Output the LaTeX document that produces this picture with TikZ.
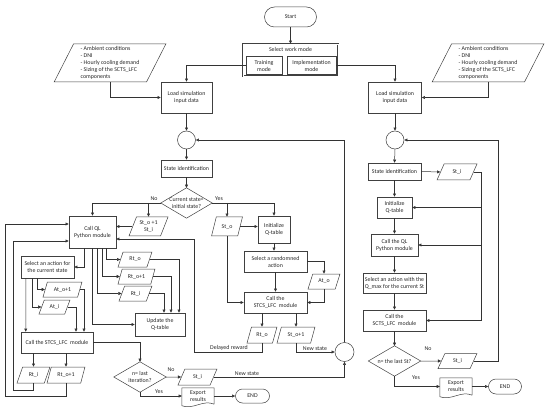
\documentclass[tikz,border=0pt]{standalone}
\usepackage{fontspec}
\setmainfont{Carlito}
\usetikzlibrary{shapes.geometric,shapes.misc,arrows.meta,calc}
\begin{document}
\begin{tikzpicture}[x=1pt,y=-1pt,
  every node/.style={font=\fontsize{5.9}{7}\selectfont, text=black!85},
  ln/.style={draw=black!80, line width=0.5pt},
  arr/.style={ln, -{Triangle[length=3.2pt,width=3pt]}},
  box/.style={rectangle, draw=black!75, line width=0.5pt, inner sep=0.5pt, align=center},
  io/.style={trapezium, trapezium left angle=65, trapezium right angle=115, trapezium stretches=true, draw=black!75, line width=0.5pt, inner sep=0.5pt, align=center},
  term/.style={rounded rectangle, draw=black!75, line width=0.5pt, inner sep=0.5pt},
  conn/.style={circle, draw=black!75, line width=0.5pt, minimum size=18pt, inner sep=0pt},
  decn/.style={rectangle, inner sep=0pt, align=center},
  docn/.style={rectangle, inner sep=0.5pt, align=center},
  lbl/.style={inner sep=0.5pt}
]
\useasboundingbox (0,0) rectangle (550,412);

% ---------- top ----------
\node[term, minimum width=53pt, minimum height=20pt] (Start) at (290.5,17) {Start};
\node[box, double, double distance=0.6pt, minimum width=95pt, minimum height=32pt] (SWM) at (290.5,60) {};
\node (SWMt) at (290.5,49.5) {Select work mode};
\node[box, minimum width=36pt, minimum height=18pt] (Trn) at (264,65.5) {Training\\mode};
\node[box, minimum width=49pt, minimum height=18pt] (Imp) at (311.5,65.5) {Implementation\\mode};

\node[io, minimum width=112pt, minimum height=38pt, align=left] (ParaL) at (110,63) {- Ambient conditions\\- DNI\\- Hourly cooling demand\\- Sizing of the SCTS\_LFC\\components};
\node[io, minimum width=112pt, minimum height=38pt, align=left] (ParaR) at (488,63) {- Ambient conditions\\- DNI\\- Hourly cooling demand\\- Sizing of the SCTS\_LFC\\components};

\node[box, minimum width=51pt, minimum height=31pt] (LoadL) at (186.5,97.5) {Load simulation\\input data};
\node[box, minimum width=53pt, minimum height=31pt] (LoadR) at (395,97.5) {Load simulation\\input data};

\node[conn] (CircL) at (186.5,140) {};
\node[conn] (CircR) at (395,140) {};
\node[conn, minimum size=19pt] (CircB) at (344.5,352) {};

% ---------- left main ----------
\node[box, minimum width=51pt, minimum height=17pt] (StateL) at (186.5,168.5) {State identification};
\node[decn, minimum width=51pt, minimum height=30pt] (D1) at (186.5,203) {Current state=\\initial state?};
\draw[ln, draw=black!75] (D1.north) -- (D1.east) -- (D1.south) -- (D1.west) -- cycle;

\node[box, minimum width=47pt, minimum height=32pt] (CallQL) at (92.5,232) {Call QL\\Python module};
\node[io, minimum width=39pt, minimum height=19pt] (StoSti) at (148.5,226.5) {St\_o +1\\St\_i};
\node[io, minimum width=31pt, minimum height=19pt] (Sto) at (227,226.5) {St\_o};
\node[box, minimum width=32pt, minimum height=27pt] (Init) at (274,229.5) {Initialize\\Q-table};
\node[box, minimum width=63pt, minimum height=21pt] (SelR) at (275.5,261.5) {Select a randomned\\action};
\node[io, minimum width=32pt, minimum height=15pt] (Ato) at (324,281.5) {At\_o};
\node[box, minimum width=63pt, minimum height=21pt] (CallM) at (275.5,302.5) {Call the\\STCS\_LFC\ \ module};
\node[io, minimum width=30pt, minimum height=16pt] (Rtom) at (262,335) {Rt\_o};
\node[io, minimum width=38pt, minimum height=16pt] (Sto1m) at (296,335) {St\_o+1};

\node[box, minimum width=53pt, minimum height=22pt] (SelA) at (47.5,267) {Select an action for\\the current state};
\node[io, minimum width=34pt, minimum height=15pt] (Rto) at (135,259.5) {Rt\_o};
\node[io, minimum width=37pt, minimum height=15pt] (Rto1) at (136.5,276.5) {Rt\_o+1};
\node[io, minimum width=33pt, minimum height=15pt] (Rti) at (135.5,293.5) {Rt\_i};
\node[box, minimum width=50pt, minimum height=23pt] (Upd) at (160,324.5) {Update the\\Q-table};
\node[io, minimum width=39pt, minimum height=15pt] (Ato1) at (62.5,289.5) {At\_o+1};
\node[io, minimum width=31pt, minimum height=14pt] (Ati) at (54.5,307) {At\_i};
\node[box, minimum width=72pt, minimum height=21pt] (CallL) at (57,342.5) {Call the STCS\_LFC\ \ module};
\node[io, minimum width=33pt, minimum height=16pt] (Rtib) at (33.5,375) {Rt\_i};
\node[io, minimum width=38pt, minimum height=16pt] (Rto1b) at (66,375) {Rt\_o+1};

\node[decn, minimum width=52pt, minimum height=30pt] (D2) at (140,377) {n= last\\iteration?};
\draw[ln, draw=black!75] (D2.north) -- (D2.east) -- (D2.south) -- (D2.west) -- cycle;
\node[io, minimum width=39pt, minimum height=16pt] (Stib) at (197.5,377) {St\_i};
\node[docn, minimum width=32pt, minimum height=16pt] (ExpL) at (198,396) {Export\\results};
\draw[ln, draw=black!75] (ExpL.south east) -- (ExpL.north east) -- (ExpL.north west) -- ($(ExpL.south west)+(0,1.5)$) .. controls ($(ExpL.south west)+(11,6)$) and ($(ExpL.south east)+(-11,-5)$) .. (ExpL.south east);
\node[term, minimum width=35pt, minimum height=14pt] (EndL) at (252.5,396) {END};

% ---------- right ----------
\node[box, minimum width=53pt, minimum height=17pt] (RState) at (394.5,171.5) {State identification};
\node[io, minimum width=40pt, minimum height=16pt] (RSti) at (457,172) {St\_i};
\node[box, minimum width=35pt, minimum height=21pt] (RInit) at (394.5,207.5) {Initialize\\Q-table};
\node[box, minimum width=47pt, minimum height=22pt] (RCallQ) at (394.5,245) {Call the QL\\Python module};
\node[box, minimum width=63pt, minimum height=20pt] (RSelQ) at (394.5,283) {Select an action with the\\Q\_max for the current St};
\node[box, minimum width=63pt, minimum height=21pt] (RCallS) at (394.5,320.5) {Call the\\SCTS\_LFC\ \ module};
\node[decn, minimum width=52pt, minimum height=30pt] (D3) at (394.5,361) {n= the last St?};
\draw[ln, draw=black!75] (D3.north) -- (D3.east) -- (D3.south) -- (D3.west) -- cycle;
\node[io, minimum width=39pt, minimum height=15pt] (RStib) at (457.5,361) {St\_i};
\node[docn, minimum width=32pt, minimum height=17pt] (RExp) at (456,386.5) {Export\\results};
\draw[ln, draw=black!75] (RExp.south east) -- (RExp.north east) -- (RExp.north west) -- ($(RExp.south west)+(0,1.5)$) .. controls ($(RExp.south west)+(11,6)$) and ($(RExp.south east)+(-11,-5)$) .. (RExp.south east);
\node[term, minimum width=34pt, minimum height=15pt] (REnd) at (505,386.5) {END};

\coordinate (rbx) at (481,0);
\coordinate (rrx) at (498,0);
\coordinate (dl) at (194,352);

% ---------- connectors: top ----------
\draw[arr] (Start.south) -- (SWM.north);
\draw[arr] (Trn.west) -| (LoadL.north);
\draw[arr] (Imp.east) -| (LoadR.north);
\draw[arr] (ParaL.center |- ParaL.south) |- (LoadL.west);
\draw[arr] (ParaR.center |- ParaR.south) |- (LoadR.east);
\draw[arr] (LoadL.south) -- (CircL.north);
\draw[arr] (LoadR.south) -- (CircR.north);

% ---------- connectors: left main ----------
\draw[arr] (CircL.south) -- (StateL.north);
\draw[arr] (StateL.south) -- (D1.north);
\draw[arr] (D1.west) -| (CallQL.north);
\node[lbl] at (154,199) {No};
\draw[arr] (D1.west -| StoSti.center) -- (StoSti.center |- StoSti.north);
\draw[arr] (D1.east) -| (Init.north);
\node[lbl] at (219,199) {Yes};
\draw[arr] (D1.east -| Sto.center) -- (Sto.center |- Sto.north);
\draw[arr] (StoSti.west) -- (StoSti.west -| CallQL.east);
\draw[arr] (Sto.east) -- (Sto.east -| Init.west);
\draw[arr] (Sto.center |- Sto.south) |- (CallM.west);
\draw[arr] (Init.south) -- (Init.south |- SelR.north);
\draw[arr] (SelR.east) -| (Ato.center |- Ato.north);
\draw[arr] (Ato.center |- Ato.south) |- (CallM.east);
\draw[arr] (SelR.south) -- (CallM.north);
\draw[arr] (Rtom.center |- CallM.south) -- (Rtom.center |- Rtom.north);
\draw[arr] (Sto1m.center |- CallM.south) -- (Sto1m.center |- Sto1m.north);
\draw[arr] (Rtom.center |- Rtom.south) |- (dl) |- ($(CallQL.east)+(0,7)$);
\node[lbl, anchor=south] at (229,351) {Delayed reward};
\draw[arr] (Sto1m.center |- Sto1m.south) |- (CircB.west);
\node[lbl, anchor=south] at (315,351) {New state};
\draw[arr] (CircB.north) |- (CircL.east);
\draw[arr] (Stib.east) -| (CircB.south);
\node[lbl, anchor=south] at (247,376) {New state};

% ---------- connectors: left group ----------
\draw[arr] ($(CallQL.south)+(-8.5,0)$) |- (SelA.east);
\draw[arr] (CallQL.south) |- (Upd.west);
\draw[arr] ($(CallQL.south)+(4.5,0)$) |- (Rti.west);
\draw[arr] ($(CallQL.south)+(9.5,0)$) |- (Rto1.west);
\draw[arr] ($(CallQL.south)+(13.5,0)$) |- (Rto.west);
\draw[arr] (Rto.east) -| ($(Upd.north)+(19,0)$);
\draw[arr] (Rto1.east) -| ($(Upd.north)+(11,0)$);
\draw[arr] (Rti.east) -| ($(Upd.north)+(4,0)$);
\draw[arr] ($(SelA.south)+(-10.5,0)$) |- (Ato1.west);
\draw[arr] ($(SelA.south)+(-15.5,0)$) |- (Ati.west);
\draw[arr] ($(SelA.south)+(-21.5,0)$) -- ($(CallL.north west)+(5,0)$);
\draw[arr] (Ato1.east) -| ($(CallL.north)+(27,0)$);
\draw[arr] (Ati.east) -| ($(CallL.north)+(19,0)$);
\draw[arr] (Rtib.center |- CallL.south) -- (Rtib.center |- Rtib.north);
\draw[arr] (Rto1b.center |- CallL.south) -- (Rto1b.center |- Rto1b.north);
\draw[arr] (Rtib.center |- Rtib.south) -- ++(0,7) -| ($(CallQL.west)+(-56,9)$) -- ($(CallQL.west)+(0,9)$);
\draw[arr] (Rto1b.center |- Rto1b.south) -- ++(0,13) -| ($(CallQL.west)+(-64,-8)$) -- ($(CallQL.west)+(0,-8)$);
\draw[arr] (CallL.east) -| (D2.north);
\draw[arr] (D2.east) -- (Stib.west);
\node[lbl] at (171,370) {No};
\draw[arr] (D2.south) |- (ExpL.west);
\node[lbl] at (159,392) {Yes};
\draw[arr] (ExpL.east) -- (EndL.west);

% ---------- connectors: right ----------
\draw[arr] (CircR.south) -- (RState.north);
\draw[arr] (RState.east) -- (RSti.west);
\draw[arr] (RSti.east) -- (RSti.east -| rbx) |- (RCallS.east);
\draw[arr] (RInit.east -| rbx) -- (RInit.east);
\draw[arr] (RCallQ.east -| rbx) -- (RCallQ.east);
\draw[arr] (RState.south) -- (RInit.north);
\draw[arr] (RInit.south) -- (RCallQ.north);
\draw[arr] (RCallQ.south) -- (RSelQ.north);
\draw[arr] (RSelQ.south) -- (RCallS.north);
\draw[arr] (RCallS.south) -- (D3.north);
\draw[arr] (D3.east) -- (RStib.west);
\node[lbl] at (428,349) {No};
\draw[arr] (RStib.east) -- (RStib.east -| rrx) |- (CircR.east);
\draw[arr] (D3.south) |- (RExp.west);
\node[lbl] at (416,378) {Yes};
\draw[arr] (RExp.east) -- (REnd.west);
\end{tikzpicture}
\end{document}
